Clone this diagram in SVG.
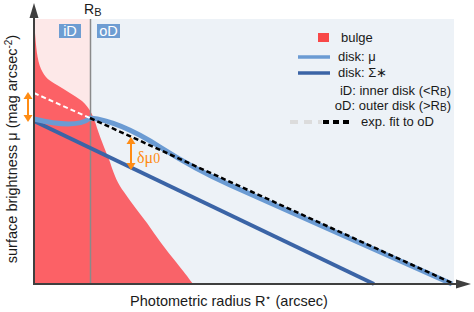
<svg xmlns="http://www.w3.org/2000/svg" width="474" height="312" viewBox="0 0 474 312">
<style>
  text { font-family: "Liberation Sans", Arial, sans-serif; fill: #1a1a1a; }
  .lg { font-size: 13px; }
  .axis { stroke: #3f3f3f; stroke-width: 2; fill: none; }
  .orange { stroke: #ff8c14; stroke-width: 2; fill: none; }
  .oh { fill: #ff8c14; }
  .lt { stroke: #6b9bd3; stroke-width: 5; fill: none; stroke-linejoin: round; }
  .dk { stroke: #3b64a6; stroke-width: 4; fill: none; }
  .box { fill: #6e9dd2; }
  .boxt { fill: #ffffff; font-size: 14.5px; }
</style>
<g id="background">
  <rect x="34" y="19" width="56.5" height="265" fill="#fde8e8"/>
  <rect x="90.5" y="19" width="363.5" height="265" fill="#edf2f7"/>
</g>
<g id="bulge">
  <path d="M34,33 L35,33 C36,45 37,60 41,69 C45,78 50,81 57,85 C65,90 74,95 82,101 C90,108 94,117 97,128 C101,140 106,152 110,162 C114,175 118,184 124,192 C131,202 139,213 147,223 C156,236 166,250 176,262 C183,271 188,277 193,284 L34,284 Z" fill="#fb3f45" fill-opacity="0.8"/>
</g>
<g id="rb-line">
  <line x1="90.5" y1="19" x2="90.5" y2="284" stroke="#8a8a8a" stroke-width="1.5"/>
  <text x="84" y="14" font-size="14">R<tspan font-size="11" dy="2">B</tspan></text>
</g>
<g id="iD">
  <rect class="box" x="59" y="24" width="22" height="14"/>
  <text class="boxt" x="70" y="36" text-anchor="middle">iD</text>
</g>
<g id="oD">
  <rect class="box" x="97" y="24" width="23" height="14"/>
  <text class="boxt" x="108.5" y="36" text-anchor="middle">oD</text>
</g>
<g id="connectors">
  <line class="dk" x1="34" y1="121" x2="374" y2="284"/>
  <path class="lt" d="M34,119 C55,124 80,127 90,118 C110,120 135,131 160,147 C185,163 205,174 230,185 L452,284"/>
  <line x1="34" y1="93" x2="90" y2="118" stroke="#ffffff" stroke-width="2" stroke-dasharray="5,3"/>
  <line x1="90" y1="118" x2="452" y2="283" stroke="#000000" stroke-width="2.5" stroke-dasharray="5,3"/>
  <line class="orange" x1="28" y1="97" x2="28" y2="117"/>
  <polygon class="oh" points="28,92 23.5,99 32.5,99"/>
  <polygon class="oh" points="28,122 23.5,115 32.5,115"/>
  <line class="orange" x1="131" y1="142" x2="131" y2="165"/>
  <polygon class="oh" points="131,137 126.5,144 135.5,144"/>
  <polygon class="oh" points="131,170 126.5,163 135.5,163"/>
  <text x="137" y="163" font-size="16" style="fill:#ff8c14;font-family:'Liberation Serif',serif">δμ<tspan font-size="14">0</tspan></text>
</g>
<g id="axes">
  <line class="axis" x1="34" y1="285" x2="34" y2="15"/>
  <polygon points="34,3 29.5,18 38.5,18" fill="#3f3f3f"/>
  <line class="axis" x1="33" y1="284" x2="458" y2="284"/>
  <polygon points="471,284 456,279.5 456,288.5" fill="#3f3f3f"/>
  <text x="229" y="306" font-size="14.5" text-anchor="middle">Photometric radius R<tspan font-size="10" dy="-5">⋆</tspan><tspan dy="5"> (arcsec)</tspan></text>
  <text transform="translate(17,149) rotate(-90)" font-size="14.5" text-anchor="middle">surface brightness μ (mag arcsec<tspan font-size="10" dy="-5">-2</tspan><tspan dy="5">)</tspan></text>
</g>
<g id="legend">
  <rect x="318" y="33" width="11" height="9" fill="#f84848"/>
  <text class="lg" x="341" y="42">bulge</text>
  <line x1="298" y1="57" x2="330" y2="57" stroke="#6b9bd3" stroke-width="3.5"/>
  <text class="lg" x="338" y="61">disk: μ</text>
  <line x1="298" y1="73" x2="330" y2="73" stroke="#3b64a6" stroke-width="3.5"/>
  <text class="lg" x="338" y="77">disk: Σ∗</text>
  <text class="lg" x="451" y="95" text-anchor="end">iD: inner disk (&lt;R<tspan font-size="10" dy="0.5">B</tspan><tspan dy="-0.5">)</tspan></text>
  <text class="lg" x="451" y="110" text-anchor="end">oD: outer disk (&gt;R<tspan font-size="10" dy="0.5">B</tspan><tspan dy="-0.5">)</tspan></text>
  <line x1="290" y1="122" x2="322" y2="122" stroke="#dcdcdc" stroke-width="4" stroke-dasharray="8,6"/>
  <line x1="323" y1="122" x2="352" y2="122" stroke="#000000" stroke-width="4" stroke-dasharray="6,4"/>
  <text class="lg" x="361" y="126">exp. fit to oD</text>
</g>
</svg>
